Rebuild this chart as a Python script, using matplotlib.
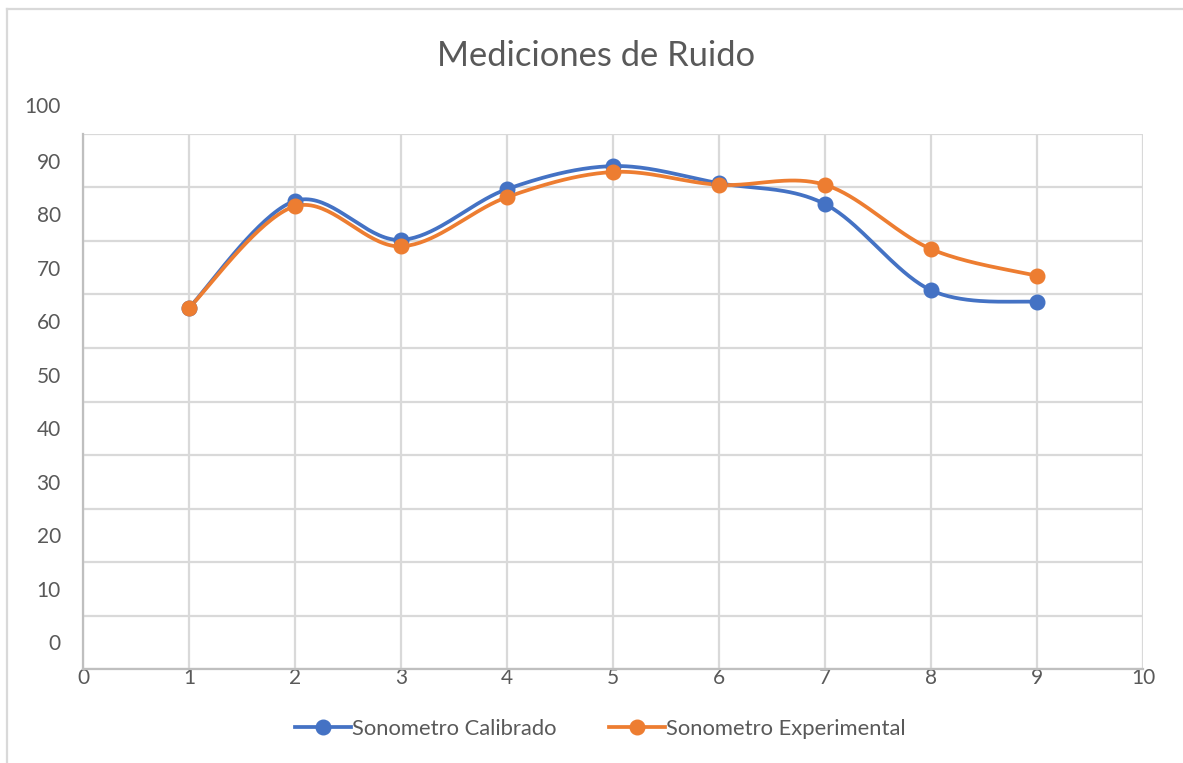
import numpy as np
import matplotlib
matplotlib.use("Agg")
import matplotlib.pyplot as plt
import matplotlib.transforms as mtransforms
from matplotlib.lines import Line2D

plt.rcParams['font.family'] = ['Lato', 'DejaVu Sans']

title = "Mediciones de Ruido"
x_points = [1, 2, 3, 4, 5, 6, 7, 8, 9]
calibrado = [62.5, 82.5, 75.2, 84.7, 89.0, 85.8, 81.9, 65.8, 63.6]
experimental = [62.5, 81.5, 74.0, 83.2, 87.9, 85.5, 85.5, 73.5, 68.5]
series_names = ["Sonometro Calibrado", "Sonometro Experimental"]
y_labels = [0, 10, 20, 30, 40, 50, 60, 70, 80, 90, 100]
x_ticks = [0, 1, 2, 3, 4, 5, 6, 7, 8, 9, 10]

BLUE = "#4472C4"
ORANGE = "#ED7D31"
TXT = "#595959"
GRID = "#D9D9D9"


def smooth(xs, ys, n=40):
    xs = np.asarray(xs, float)
    ys = np.asarray(ys, float)
    px = np.concatenate([[xs[0]], xs, [xs[-1]]])
    py = np.concatenate([[ys[0]], ys, [ys[-1]]])
    ox, oy = [], []
    t = np.linspace(0, 1, n)
    for i in range(1, len(px) - 2):
        p0 = np.array([px[i], py[i]])
        p3 = np.array([px[i + 1], py[i + 1]])
        p1 = p0 + (np.array([px[i + 1], py[i + 1]]) - np.array([px[i - 1], py[i - 1]])) / 6
        p2 = p3 - (np.array([px[i + 2], py[i + 2]]) - np.array([px[i], py[i]])) / 6
        b = ((1 - t) ** 3)[:, None] * p0 + (3 * (1 - t) ** 2 * t)[:, None] * p1 + \
            (3 * (1 - t) * t ** 2)[:, None] * p2 + (t ** 3)[:, None] * p3
        ox.extend(b[:, 0])
        oy.extend(b[:, 1])
    return ox, oy


fig = plt.figure(figsize=(11.83, 7.63), dpi=100)
ax = fig.add_axes([83 / 1183, 1 - 669 / 763, (1143 - 83) / 1183, (669 - 134) / 763])

ax.set_xlim(0, 10)
ax.set_ylim(-5, 95)

# gridlines (minor ticks at half steps), labels offset as in the original
ax.set_yticks(np.arange(-5, 96, 10), minor=True)
ax.set_yticks(y_labels[:-1])
ax.set_yticklabels([str(v) for v in y_labels[:-1]])
ax.set_xticks(x_ticks)
ax.set_xticklabels([str(v) for v in x_ticks])
ax.grid(True, which='minor', axis='y', color=GRID, lw=1.6)
ax.grid(True, which='major', axis='x', color=GRID, lw=1.6)
ax.grid(False, which='major', axis='y')
ax.set_axisbelow(True)
ax.tick_params(axis='y', which='both', length=0, pad=16, labelsize=15, labelcolor=TXT)
ax.tick_params(axis='x', which='both', length=0, pad=-1, labelsize=15, labelcolor=TXT)
t100 = ax.text(0, 100, str(y_labels[-1]), ha='right', va='center',
               fontsize=15, color=TXT, clip_on=False)
t100.set_transform(ax.get_yaxis_transform() + mtransforms.ScaledTranslation(-16 / 72, 0, fig.dpi_scale_trans))

for s in ['top', 'right']:
    ax.spines[s].set_visible(False)
for s in ['left', 'bottom']:
    ax.spines[s].set_color('#BFBFBF')
    ax.spines[s].set_linewidth(1.6)

for ys, c, name in [(calibrado, BLUE, series_names[0]), (experimental, ORANGE, series_names[1])]:
    sx, sy = smooth(x_points, ys)
    ax.plot(sx, sy, color=c, lw=2.7, solid_capstyle='round', zorder=3)
    ax.plot(x_points, ys, 'o', color=c, ms=10.5, zorder=4)

handles = [Line2D([], [], color=BLUE, lw=2.7, marker='o', ms=10.5),
           Line2D([], [], color=ORANGE, lw=2.7, marker='o', ms=10.5)]
fig.legend(handles, series_names, loc='center', bbox_to_anchor=(600 / 1183, 1 - 729 / 763),
           ncol=2, frameon=False, fontsize=15.8, labelcolor=TXT, handlelength=2.55,
           handletextpad=0.05, columnspacing=2.4)

fig.text(596 / 1183, 1 - 56 / 763, title, ha='center', va='center', fontsize=24.8, color=TXT)

# chart area border (top and left visible)
fig.add_artist(Line2D([7 / 1183, 1], [1 - 9 / 763, 1 - 9 / 763], color=GRID, lw=1.6, transform=fig.transFigure))
fig.add_artist(Line2D([7 / 1183, 7 / 1183], [0, 1 - 9 / 763], color=GRID, lw=1.6, transform=fig.transFigure))

fig.savefig("out.png", dpi=100, facecolor='white')
